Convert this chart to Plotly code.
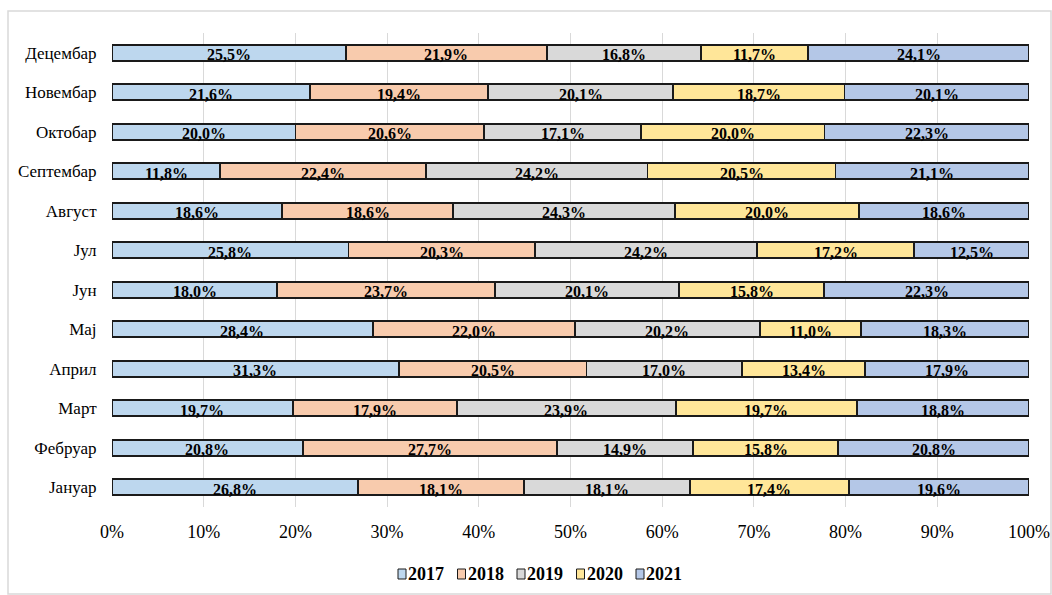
import plotly.graph_objects as go

# Monthly shares (%) per year
months = ["Јануар", "Фебруар", "Март", "Април", "Мај", "Јун",
          "Јул", "Август", "Септембар", "Октобар", "Новембар", "Децембар"]
years = ["2017", "2018", "2019", "2020", "2021"]

share_2017 = [26.8, 20.8, 19.7, 31.3, 28.4, 18.0, 25.8, 18.6, 11.8, 20.0, 21.6, 25.5]
share_2018 = [18.1, 27.7, 17.9, 20.5, 22.0, 23.7, 20.3, 18.6, 22.4, 20.6, 19.4, 21.9]
share_2019 = [18.1, 14.9, 23.9, 17.0, 20.2, 20.1, 24.2, 24.3, 24.2, 17.1, 20.1, 16.8]
share_2020 = [17.4, 15.8, 19.7, 13.4, 11.0, 15.8, 17.2, 20.0, 20.5, 20.0, 18.7, 11.7]
share_2021 = [19.6, 20.8, 18.8, 17.9, 18.3, 22.3, 12.5, 18.6, 21.1, 22.3, 20.1, 24.1]

colors = ["#BDD7EE", "#F8CBAD", "#D9D9D9", "#FFE699", "#B4C7E7"]

series = [share_2017, share_2018, share_2019, share_2020, share_2021]

FONT = "Liberation Serif, Times New Roman, serif"

# plot-area geometry in pixels
W, H = 1052, 595
ML, MR, MT, MB = 112, 23, 33, 88
PW, PH = W - ML - MR, H - MT - MB

fig = go.Figure()
for name, vals, col in zip(years, series, colors):
    fig.add_trace(go.Bar(
        y=months, x=vals, name=name, orientation="h",
        marker=dict(color=col, line=dict(color="#1a1a1a", width=1.8)),
        hoverinfo="skip", showlegend=False,
    ))

# Value labels centred on each segment (positions normalised to 100%)
annotations = []
for i, m in enumerate(months):
    total = sum(s[i] for s in series)
    cum = 0.0
    for s in series:
        v = s[i]
        mid = (cum + v / 2) / total * 100
        cum += v
        annotations.append(dict(
            x=mid, y=m, xref="x", yref="y",
            text=f"<b>{v:.1f}%</b>".replace(".", ","),
            showarrow=False, yshift=-2,
            font=dict(family=FONT, size=16, color="#000000"),
        ))

# Compact legend: small outlined squares followed by the year
shapes = [dict(
    type="rect", xref="paper", yref="paper",
    x0=-(ML - 8) / PW, x1=(W - 1 - ML) / PW,
    y0=-(H - 1 - (MT + PH)) / PH, y1=1 + (MT - 11) / PH,
    line=dict(color="#D9D9D9", width=1.5), fillcolor="rgba(0,0,0,0)",
    layer="below",
)]
leg_x0, leg_pitch, leg_y = 398, 59.5, 574
for k, (name, col) in enumerate(zip(years, colors)):
    ax = (leg_x0 + k * leg_pitch - ML) / PW
    ay = ((MT + PH) - leg_y) / PH
    shapes.append(dict(
        type="rect", xref="paper", yref="paper",
        xsizemode="pixel", ysizemode="pixel", xanchor=ax, yanchor=ay,
        x0=0, x1=8, y0=-5, y1=5,
        fillcolor=col, line=dict(color="#1a1a1a", width=1),
    ))
    annotations.append(dict(
        x=ax, y=ay, xref="paper", yref="paper", xanchor="left", yanchor="middle",
        xshift=8, text=f"<b>{name}</b>", showarrow=False,
        font=dict(family=FONT, size=18, color="#000000"),
    ))

fig.update_layout(
    barmode="stack", barnorm="percent", bargap=0.6,
    width=W, height=H, autosize=False,
    margin=dict(l=ML, r=MR, t=MT, b=MB, autoexpand=False),
    paper_bgcolor="white", plot_bgcolor="white",
    font=dict(family=FONT, size=16, color="#000000"),
    annotations=annotations, shapes=shapes,
    showlegend=False,
)

fig.update_xaxes(
    range=[0, 100], tickvals=list(range(0, 101, 10)),
    ticktext=[f"{v}%" for v in range(0, 101, 10)],
    showgrid=True, gridcolor="#D9D9D9", gridwidth=1,
    zeroline=False, showline=False, automargin=False,
    ticks="outside", ticklen=8, tickcolor="rgba(0,0,0,0)",
    tickfont=dict(family=FONT, size=18, color="#000000"),
)
fig.update_yaxes(
    categoryorder="array", categoryarray=months,
    showgrid=False, zeroline=False, showline=False, automargin=False,
    ticks="outside", ticklen=11, tickcolor="rgba(0,0,0,0)",
    tickfont=dict(family=FONT, size=17, color="#000000"),
)

fig.write_html("out.html")
